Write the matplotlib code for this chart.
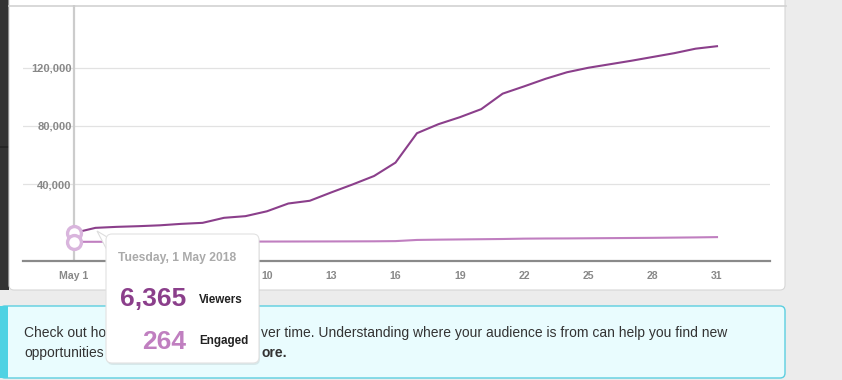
import numpy as np
import matplotlib
matplotlib.use('Agg')
import matplotlib.pyplot as plt
from matplotlib.patches import FancyBboxPatch, Rectangle, Polygon

plt.rcParams['font.family'] = ['Liberation Sans', 'DejaVu Sans']

# data: daily cumulative counts, May 2018
days = list(range(1, 32))
viewers = [6365, 9860, 10550, 11000, 11600, 12600, 13300, 16760, 17900, 21240,
           26600, 28480, 34200, 39700, 45500, 54700, 74900, 81100, 85900, 91450,
           102100, 107100, 112300, 116800, 119900, 122300, 124700, 127300, 129900,
           133000, 134700]
engaged = [264, 280, 300, 320, 340, 360, 380, 400, 420, 440, 470, 500, 530, 570,
           620, 750, 1550, 1750, 1900, 2050, 2200, 2450, 2550, 2600, 2700, 2800,
           2900, 3000, 3150, 3300, 3500]
x_ticks = [1, 4, 7, 10, 13, 16, 19, 22, 25, 28, 31]
x_labels = ['May 1', '4', '7', '10', '13', '16', '19', '22', '25', '28', '31']
y_ticks = [40000, 80000, 120000]
y_labels = ['40,000', '80,000', '120,000']

tip_date = 'Tuesday, 1 May 2018'
tip_viewers = '6,365'
tip_engaged = '264'

C_VIEW = '#8b3f8b'
C_ENG = '#c07fc0'

W, H = 842, 380
fig = plt.figure(figsize=(W / 100, H / 100), dpi=100, facecolor='#ececec')

# background page drawn in pixel coordinates
bg = fig.add_axes([0, 0, 1, 1], zorder=0)
bg.set_xlim(0, W)
bg.set_ylim(H, 0)
bg.axis('off')

bg.add_patch(Rectangle((0, 0), 9, 290, color='#333333', lw=0))
bg.add_patch(Rectangle((0, 146), 9, 2, color='#262626', lw=0))
bg.add_patch(FancyBboxPatch((9, -10), 776, 300, boxstyle='round,pad=0,rounding_size=5',
                            fc='white', ec='#d6d6d6', lw=0.8))
bg.plot([9, 786], [5.5, 5.5], color='#d2d2d2', lw=1.2)

# info banner
bg.add_patch(FancyBboxPatch((0, 306), 785, 72, boxstyle='round,pad=0,rounding_size=5',
                            fc='#e9fcfe', ec='#5ccfe0', lw=1))
bg.add_patch(Rectangle((0, 306), 8, 72, color='#4fd2e3', lw=0))
tkw = dict(fontsize=10, color='#333333', va='baseline')
bg.text(24, 337, 'Check out ho', **tkw)
bg.text(261, 337, 'ver time. Understanding where your audience is from can help you find new', **tkw)
bg.text(24, 357, 'opportunities', **tkw)
bg.text(261, 357, 'ore.', fontweight='bold', **tkw)

# chart
px_per_day = (717 - 74) / 30
x0 = 1 + (23 - 74) / px_per_day
x1 = 1 + (770 - 74) / px_per_day
px_per_val = 58.2 / 40000
y0 = -(261 - 242.2) / px_per_val
y1 = (242.2 - 5) / px_per_val

ax = fig.add_axes([23 / W, 1 - 261 / H, 747 / W, 256 / H], zorder=1)
ax.set_facecolor('none')
ax.set_xlim(x0, x1)
ax.set_ylim(y0, y1)
for s in ['top', 'left', 'right']:
    ax.spines[s].set_visible(False)
ax.spines['bottom'].set_color('#8a8a8a')
ax.spines['bottom'].set_linewidth(1.6)

ax.set_yticks(y_ticks)
ax.set_yticklabels(y_labels)
ax.set_xticks(x_ticks)
ax.set_xticklabels(x_labels)
ax.tick_params(axis='y', length=0, pad=-35, labelsize=8, labelcolor='#888888')
ax.tick_params(axis='x', length=0, pad=7, labelsize=7.6, labelcolor='#888888')
for lab in ax.get_xticklabels() + ax.get_yticklabels():
    lab.set_fontweight('bold')
ax.grid(axis='y', color='#e2e2e2', lw=0.9)
ax.set_axisbelow(True)

ax.axvline(days[0], color='#cccccc', lw=1.6, zorder=1)
ax.plot(days, engaged, color=C_ENG, lw=1.5, zorder=3)
ax.plot(days, viewers, color=C_VIEW, lw=1.5, zorder=3)
ax.plot(days[0], viewers[0], 'o', ms=10, mfc='white', mec='#d9b5dd', mew=2.4, zorder=4)
ax.plot(days[0], engaged[0], 'o', ms=10, mfc='white', mec='#d9b5dd', mew=2.4, zorder=4)

# tooltip overlay
ov = fig.add_axes([0, 0, 1, 1], zorder=2)
ov.set_xlim(0, W)
ov.set_ylim(H, 0)
ov.axis('off')
ov.patch.set_alpha(0)
ov.add_patch(FancyBboxPatch((107, 236), 153, 129, boxstyle='round,pad=0,rounding_size=6',
                            fc='#000000', ec='none', alpha=0.08))
ov.add_patch(Polygon([(107, 237), (97, 231), (107, 250)], closed=True,
                     fc='white', ec='#dddddd', lw=0.8))
ov.add_patch(FancyBboxPatch((106, 234), 153, 129, boxstyle='round,pad=0,rounding_size=6',
                            fc='white', ec='#e2e2e2', lw=0.8))
ov.add_patch(Rectangle((106.5, 238), 2, 11, color='white', lw=0))
ov.text(118, 261, tip_date, fontsize=8.7, color='#aaaaaa', fontweight='bold', va='baseline')
ov.text(186, 306, tip_viewers, fontsize=19, color=C_VIEW, fontweight='bold', va='baseline', ha='right')
ov.text(199, 303, 'Viewers', fontsize=8.4, color='#222222', fontweight='bold', va='baseline')
ov.text(186, 349, tip_engaged, fontsize=19, color=C_ENG, fontweight='bold', va='baseline', ha='right')
ov.text(199, 344, 'Engaged', fontsize=8.4, color='#222222', fontweight='bold', va='baseline')

fig.savefig('out.png', dpi=100, facecolor=fig.get_facecolor())
